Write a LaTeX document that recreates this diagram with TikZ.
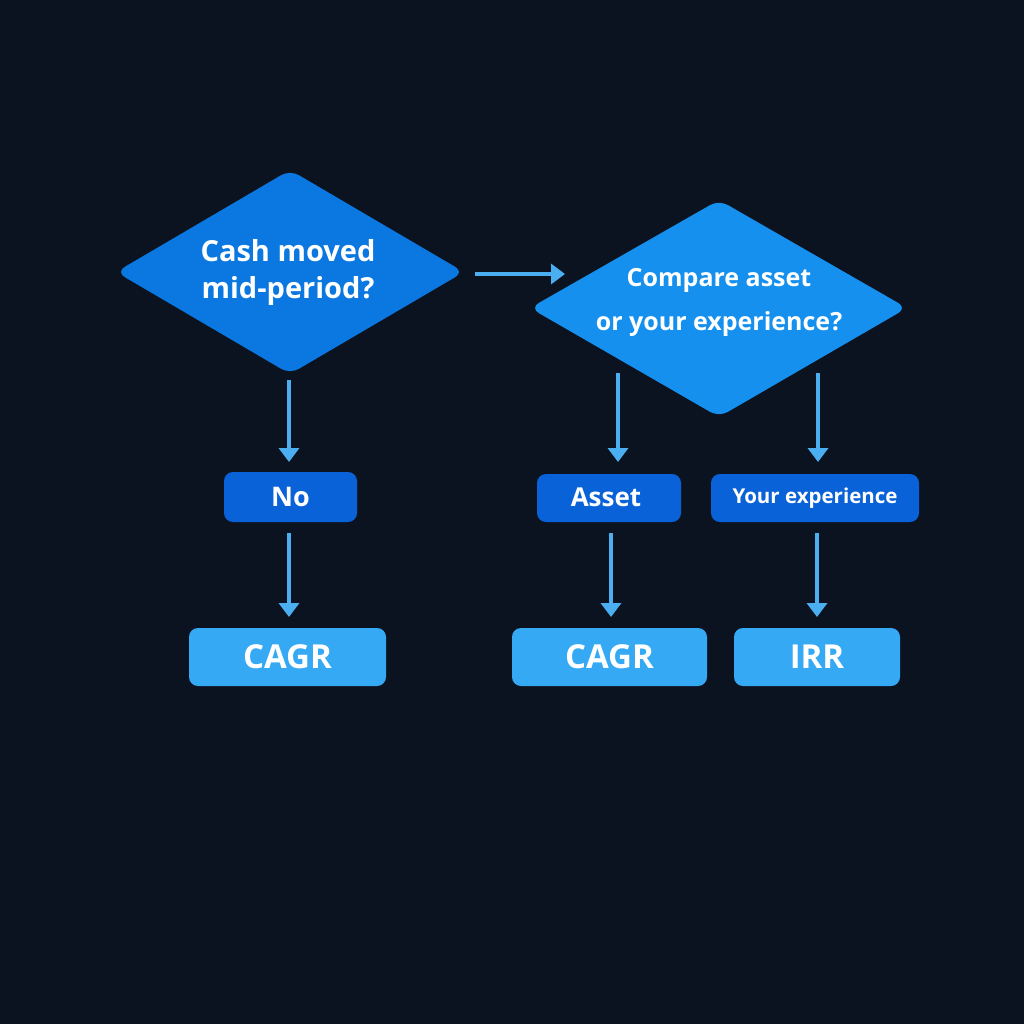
\documentclass[tikz,border=0pt]{standalone}
\usepackage{fontspec}
\setmainfont{Open Sans}
\usetikzlibrary{arrows.meta}
\definecolor{bg}{HTML}{0B1320}
\definecolor{dA}{HTML}{0A78E0}
\definecolor{dB}{HTML}{1590EE}
\definecolor{mid}{HTML}{0A62D8}
\definecolor{res}{HTML}{36A9F5}
\definecolor{arr}{HTML}{4AAEF0}
\begin{document}
\begin{tikzpicture}[x=1pt,y=-1pt,
  lab/.style={text=white,font=\bfseries,align=center,inner sep=0},
  box/.style={rounded corners=9pt,draw=none},
  conn/.style={draw=arr,line width=3.5pt,-{Triangle[length=14pt,width=20pt]}}]
\fill[bg] (0,0) rectangle (1024,1024);
\useasboundingbox (0,0) rectangle (1024,1024);
% diamonds
\fill[dA,rounded corners=10pt] (116,272)--(290,170)--(464,272)--(290,374)--cycle;
\node[lab,font=\bfseries\fontsize{29}{37}\selectfont] (d1) at (288,272) {Cash moved\\mid-period?};
\fill[dB,rounded corners=10pt] (530,308)--(719,200)--(907,308)--(719,417)--cycle;
\node[lab,font=\bfseries\fontsize{25}{44}\selectfont] (d2) at (719,302) {Compare asset\\or your experience?};
% middle boxes
\fill[mid,box] (224,472) rectangle (357,522);
\node[lab,font=\bfseries\fontsize{27}{30}\selectfont] (no) at (290.5,497) {No};
\fill[mid,box] (537,474) rectangle (681,522);
\node[lab,font=\bfseries\fontsize{26}{30}\selectfont] (asset) at (606,497) {Asset};
\fill[mid,box] (711,474) rectangle (919,522);
\node[lab,font=\bfseries\fontsize{20.5}{24}\selectfont] (exp) at (815,498) {Your experience};
% results
\fill[res,box] (189,628) rectangle (386,686);
\node[lab,font=\bfseries\fontsize{33}{36}\selectfont] (c1) at (287.5,657) {CAGR};
\fill[res,box] (512,628) rectangle (707,686);
\node[lab,font=\bfseries\fontsize{33}{36}\selectfont] (c2) at (609.5,657) {CAGR};
\fill[res,box] (734,628) rectangle (900,686);
\node[lab,font=\bfseries\fontsize{33}{36}\selectfont] (irr) at (817,657) {IRR};
% connector anchor coordinates
\coordinate (a1s) at (289,380); \coordinate (a1e) at (289,462);
\coordinate (a2s) at (289,533); \coordinate (a2e) at (289,617);
\coordinate (hs) at (475,274); \coordinate (he) at (565,274);
\coordinate (a3s) at (618,373); \coordinate (a3e) at (618,462);
\coordinate (a4s) at (818,373); \coordinate (a4e) at (818,462);
\coordinate (a5s) at (611,533); \coordinate (a5e) at (611,617);
\coordinate (a6s) at (817,533); \coordinate (a6e) at (817,617);
\draw[conn] (a1s)--(a1e);
\draw[conn] (a2s)--(a2e);
\draw[conn] (hs)--(he);
\draw[conn] (a3s)--(a3e);
\draw[conn] (a4s)--(a4e);
\draw[conn] (a5s)--(a5e);
\draw[conn] (a6s)--(a6e);
\end{tikzpicture}
\end{document}
